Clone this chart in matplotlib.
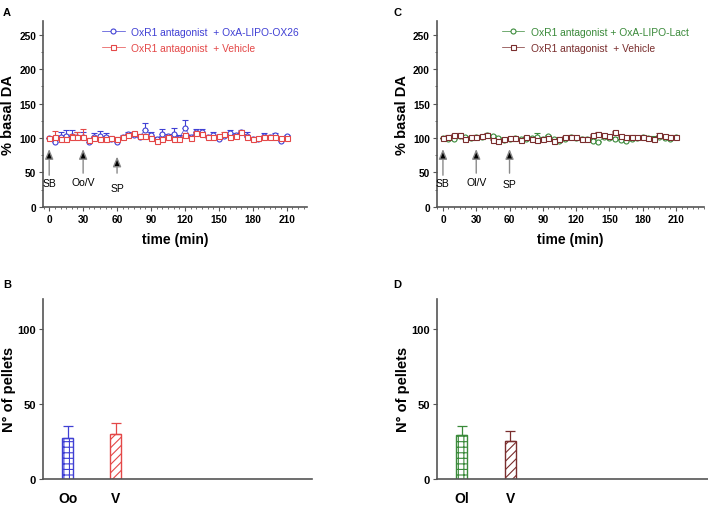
import numpy as np
import matplotlib
matplotlib.use('Agg')
import matplotlib.pyplot as plt
from matplotlib.ticker import MultipleLocator

plt.rcParams['font.family'] = ['Liberation Sans', 'DejaVu Sans']
plt.rcParams['hatch.linewidth'] = 0.8

# time course (min)
time = list(range(0, 215, 5))

# panel A
ox26_mean = [100, 94, 102, 103, 103, 102, 102, 94, 102, 103,
             101, 98, 94, 102, 106, 105, 102, 112, 104, 98,
             106, 103, 106, 100, 114, 102, 108, 108, 101, 104,
             98, 103, 107, 104, 108, 103, 99, 98, 103, 102,
             104, 96, 103]
ox26_sem = [0, 4, 7, 9, 9, 7, 6, 4, 5, 7,
            6, 5, 4, 3, 2, 3, 4, 10, 4, 3,
            7, 3, 8, 4, 12, 3, 5, 5, 2, 4,
            3, 3, 5, 3, 3, 5, 3, 2, 4, 3,
            3, 3, 2]
vehA_mean = [100, 101, 98, 98, 101, 101, 101, 97, 100, 99,
             99, 100, 99, 101, 104, 107, 103, 103, 100, 96,
             98, 101, 99, 99, 104, 100, 107, 106, 102, 101,
             103, 106, 102, 103, 108, 102, 99, 100, 101, 102,
             101, 100, 100]
vehA_sem = [0, 9, 4, 3, 5, 7, 12, 3, 3, 2,
            3, 2, 3, 2, 2, 2, 2, 3, 3, 2,
            2, 2, 2, 2, 3, 2, 2, 2, 2, 2,
            2, 2, 2, 2, 2, 2, 2, 2, 2, 2,
            2, 2, 2]

# panel C
lact_mean = [100, 98, 99, 103, 101, 100, 101, 102, 104, 103,
             100, 97, 99, 100, 98, 99, 100, 101, 99, 103,
             98, 95, 99, 101, 100, 99, 98, 96, 94, 101,
             100, 99, 97, 96, 98, 100, 101, 100, 99, 101,
             100, 98, 101]
lact_sem = [0, 2, 2, 2, 2, 2, 2, 2, 2, 2,
            2, 2, 2, 2, 2, 2, 2, 6, 2, 2,
            2, 2, 2, 2, 2, 2, 2, 2, 2, 2,
            2, 2, 2, 2, 2, 2, 2, 2, 4, 2,
            2, 2, 2]
vehC_mean = [100, 102, 104, 105, 98, 101, 102, 103, 105, 97,
             96, 98, 100, 100, 97, 101, 99, 97, 98, 100,
             96, 99, 101, 102, 101, 99, 98, 104, 106, 104,
             103, 108, 103, 101, 102, 101, 101, 100, 99, 105,
             103, 102, 101]
vehC_sem = [0, 2, 2, 2, 2, 2, 2, 2, 2, 2,
            2, 2, 2, 2, 2, 2, 2, 2, 2, 2,
            2, 2, 2, 2, 2, 2, 2, 2, 2, 2,
            2, 2, 2, 2, 2, 2, 2, 2, 2, 2,
            2, 2, 2]

# pellets
groups_B = ['Oo', 'V']
pellets_B = [27, 30]
pellets_B_sem = [8, 7]
groups_D = ['Ol', 'V']
pellets_D = [29, 25.5]
pellets_D_sem = [6, 6.5]

# arrows: (time, label, head y, tail y, text y)
events_A = [(0, 'SB', 88, 42, 35), (30, 'Oo/V', 88, 45, 36), (60, 'SP', 77, 45, 27)]
events_C = [(0, 'SB', 88, 42, 35), (30, 'Ol/V', 88, 45, 36), (60, 'SP', 88, 45, 33)]

BLUE = '#4040d4'
RED = '#e44848'
GREEN = '#3a8a3a'
BROWN = '#7a2e2e'
SPINE = '#555555'


def style_axes(ax):
    for s in ['top', 'right']:
        ax.spines[s].set_visible(False)
    for s in ['left', 'bottom']:
        ax.spines[s].set_color(SPINE)
        ax.spines[s].set_linewidth(1.2)
    ax.tick_params(colors=SPINE, labelcolor='black', width=0.8, length=3, pad=2)
    ax.tick_params(which='minor', colors=SPINE, width=0.6, length=1.5)


def time_panel(ax, s1, s2, labels, colors, markers, events, xmax, leg_x):
    for (m, e), lab, col, mk in zip([s1, s2], labels, colors, markers):
        ax.errorbar(time, m, yerr=[np.zeros(len(e)), e], fmt='none',
                    ecolor=col, elinewidth=0.8, capsize=2, capthick=0.8)
        ax.plot(time, m, '-', marker=mk, color=col, lw=0.5, ms=3.6,
                mfc='white', mew=0.8, label=lab)
    ax.set_xlim(-5.5, xmax)
    ax.set_ylim(0, 270)
    ax.set_xticks(range(0, 211, 30))
    ax.set_yticks(range(0, 251, 50))
    ax.xaxis.set_minor_locator(MultipleLocator(5))
    ax.yaxis.set_minor_locator(MultipleLocator(25))
    for lbl in ax.get_xticklabels() + ax.get_yticklabels():
        lbl.set_fontweight('bold')
        lbl.set_fontsize(7.3)
    ax.set_xlabel('time (min)', fontsize=10, fontweight='bold', labelpad=6)
    ax.set_ylabel('% basal DA', fontsize=10.5, fontweight='bold', labelpad=3)
    style_axes(ax)
    for t, txt, yh, yt, ytxt in events:
        ax.annotate('', xy=(t, yh), xytext=(t, yt),
                    arrowprops=dict(arrowstyle='-|>,head_width=0.25,head_length=0.6',
                                    fc='black', ec='#8a8a8a', lw=1.0))
        ax.text(t, ytxt, txt, ha='center', va='center', fontsize=7.5)
    ax.legend(loc='upper left', bbox_to_anchor=(leg_x, 1.0), frameon=False,
              fontsize=7.4, handlelength=2.2, handletextpad=0.6,
              labelspacing=0.6, labelcolor='linecolor', borderaxespad=0.2)


def bar_panel(ax, groups, vals, sems, colors, hatches, xmax):
    x = np.arange(len(groups))
    for xi, v, e, col, h in zip(x, vals, sems, colors, hatches):
        ax.bar(xi, v, width=0.23, color='white', edgecolor=col, hatch=h, lw=1.0)
        ax.errorbar(xi, v, yerr=[[0], [e]], fmt='none', ecolor=col,
                    elinewidth=0.9, capsize=3.5, capthick=0.9)
    ax.set_xlim(-0.52, xmax)
    ax.set_ylim(0, 120)
    ax.set_xticks(x)
    ax.set_xticklabels(groups, fontsize=10, fontweight='bold')
    ax.set_yticks([0, 50, 100])
    for lbl in ax.get_yticklabels():
        lbl.set_fontweight('bold')
        lbl.set_fontsize(8)
    ax.set_ylabel('N° of pellets', fontsize=10.5, fontweight='bold', labelpad=1)
    style_axes(ax)
    ax.tick_params(axis='x', length=0, pad=9)


fig = plt.figure(figsize=(7.08, 5.06), dpi=100)
axA = fig.add_axes([0.0607, 0.589, 0.373, 0.368])
axC = fig.add_axes([0.617, 0.589, 0.377, 0.368])
axB = fig.add_axes([0.0607, 0.0514, 0.380, 0.356])
axD = fig.add_axes([0.617, 0.0514, 0.383, 0.356])

time_panel(axA, (ox26_mean, ox26_sem), (vehA_mean, vehA_sem),
           ['OxR1 antagonist  + OxA-LIPO-OX26', 'OxR1 antagonist  + Vehicle'],
           [BLUE, RED], ['o', 's'], events_A, 228, 0.2)
time_panel(axC, (lact_mean, lact_sem), (vehC_mean, vehC_sem),
           ['OxR1 antagonist + OxA-LIPO-Lact', 'OxR1 antagonist  + Vehicle'],
           [GREEN, BROWN], ['o', 's'], events_C, 235, 0.22)
bar_panel(axB, groups_B, pellets_B, pellets_B_sem, [BLUE, RED], ['+++', '////'], 5.1)
bar_panel(axD, groups_D, pellets_D, pellets_D_sem, [GREEN, BROWN], ['+++', '////'], 5.1)

for lab, (x, y) in zip('ACBD', [(0.004, 0.985), (0.556, 0.985), (0.004, 0.447), (0.556, 0.447)]):
    fig.text(x, y, lab, fontsize=8, fontweight='bold', va='top')

fig.savefig('out.png', dpi=100)
